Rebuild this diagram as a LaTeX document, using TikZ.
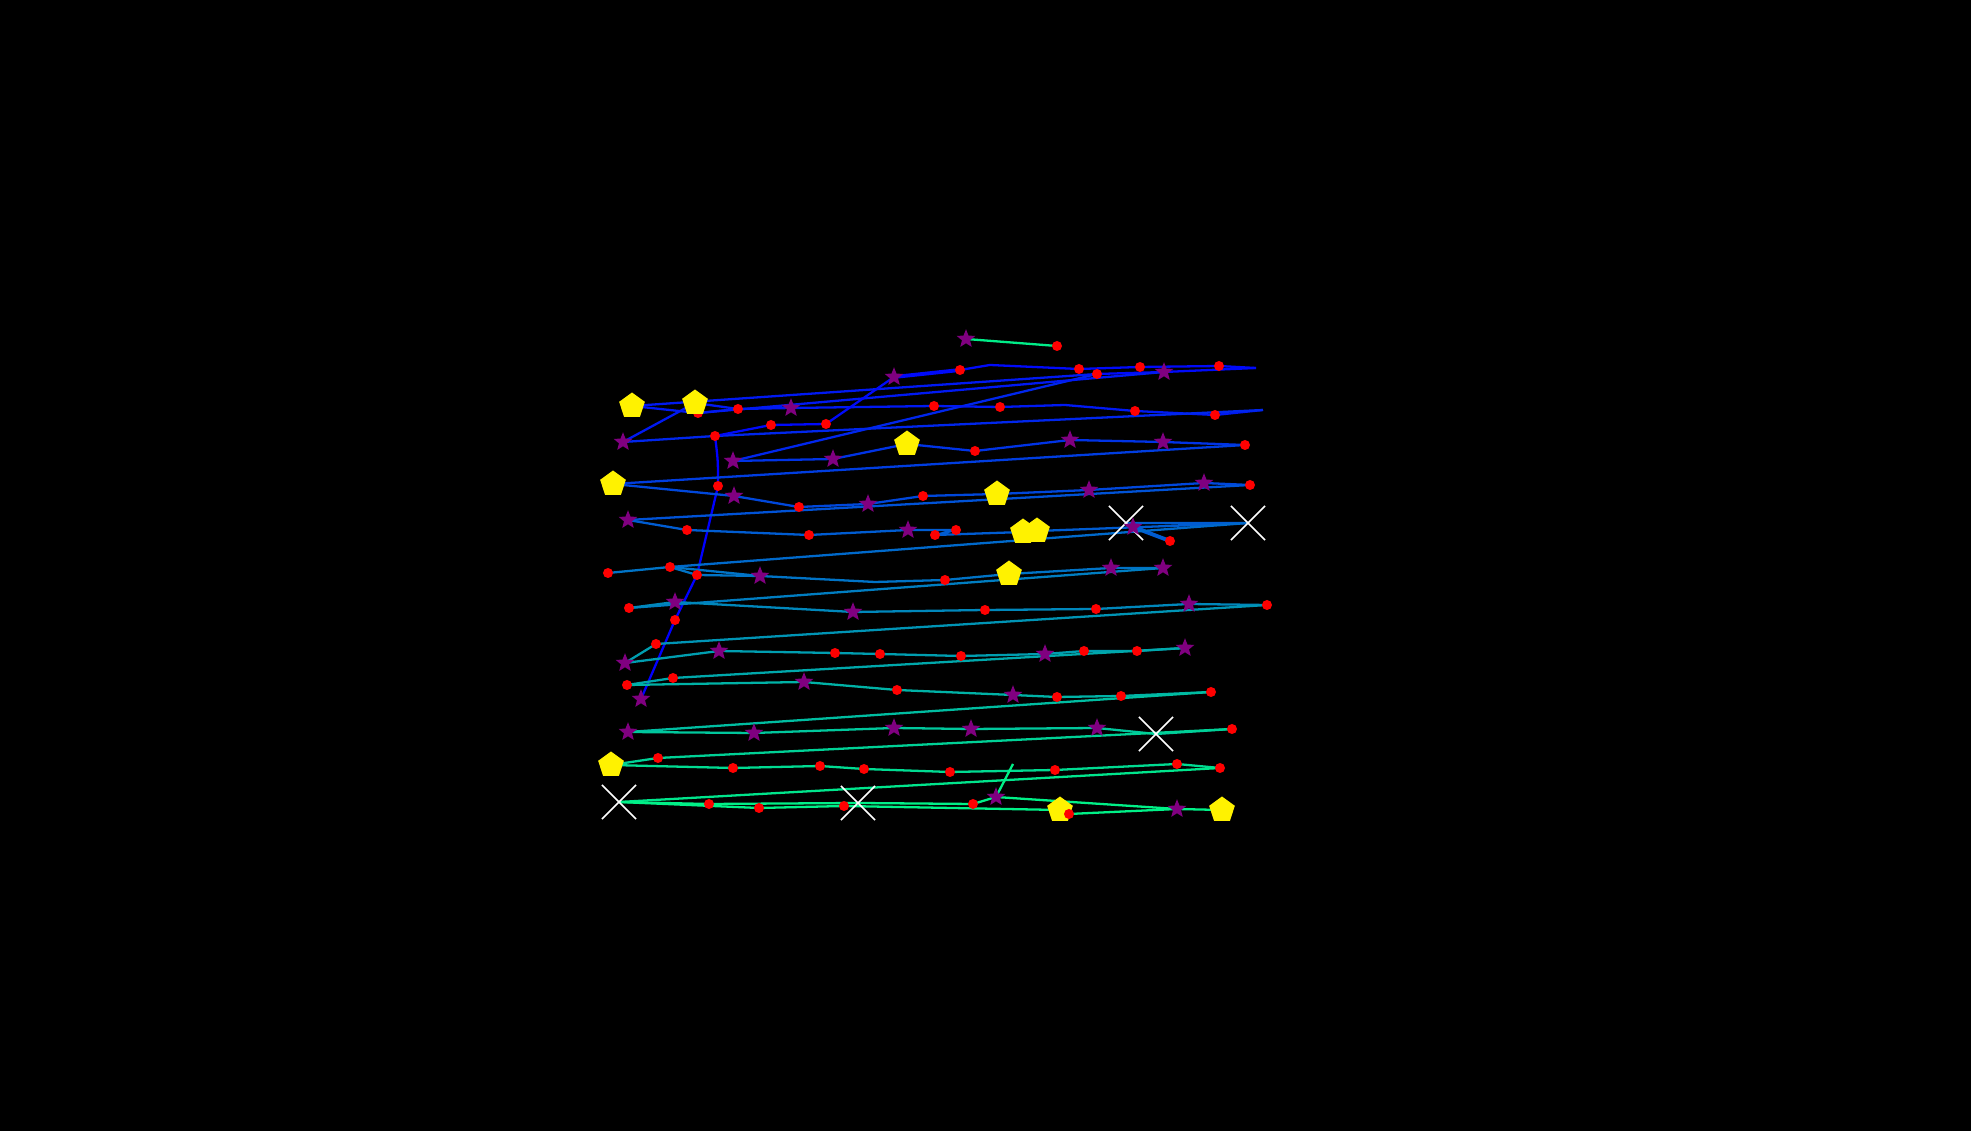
\documentclass[tikz,border=0pt]{standalone}
\usetikzlibrary{shapes.geometric,shapes.misc,backgrounds}
\definecolor{cg}{rgb}{0,0.93,0.535}
\definecolor{cv}{rgb}{0,0,1}
\definecolor{cA}{rgb}{0,0.04,0.98}
\definecolor{cB}{rgb}{0,0.10,0.95}
\definecolor{cB2}{rgb}{0,0.15,0.925}
\definecolor{cC}{rgb}{0,0.20,0.90}
\definecolor{cC2}{rgb}{0,0.24,0.88}
\definecolor{cD}{rgb}{0,0.28,0.86}
\definecolor{cD2}{rgb}{0,0.32,0.84}
\definecolor{cE}{rgb}{0,0.36,0.82}
\definecolor{cE2}{rgb}{0,0.41,0.795}
\definecolor{cF}{rgb}{0,0.45,0.775}
\definecolor{cF2}{rgb}{0,0.49,0.755}
\definecolor{cG}{rgb}{0,0.53,0.735}
\definecolor{cG2}{rgb}{0,0.58,0.71}
\definecolor{cH}{rgb}{0,0.62,0.69}
\definecolor{cH2}{rgb}{0,0.66,0.67}
\definecolor{cI}{rgb}{0,0.70,0.65}
\definecolor{cI2}{rgb}{0,0.74,0.63}
\definecolor{cJ}{rgb}{0,0.78,0.61}
\definecolor{cJ2}{rgb}{0,0.82,0.59}
\definecolor{cK}{rgb}{0,0.86,0.57}
\definecolor{cK2}{rgb}{0,0.90,0.55}
\definecolor{cL}{rgb}{0,0.94,0.53}
\definecolor{mpurple}{rgb}{0.5,0,0.5}
\tikzset{
  ln/.style={line width=0.65pt, line join=round},
  dot/.style={circle, fill=red, inner sep=0pt, outer sep=0pt, minimum size=0.1cm},
  stara/.style={star, star points=5, star point ratio=2.3, fill=mpurple, inner sep=0pt, outer sep=0pt, minimum size=0.195cm},
  pent/.style={regular polygon, regular polygon sides=5, fill=yellow, inner sep=0pt, outer sep=0pt, minimum size=0.27cm},
  xm/.style={cross out, draw=white, line width=0.45pt, inner sep=0pt, outer sep=0pt, minimum width=0.34cm, minimum height=0.34cm}
}
\begin{document}
\begin{tikzpicture}[x=0.01cm,y=-0.01cm]
\useasboundingbox (0,0) rectangle (1971,1131);
% ---------- markers: X ----------
\node[xm] (x1) at (1126,523) {};
\node[xm] (x2) at (1248,523) {};
\node[xm] (x3) at (1156,734) {};
\node[xm] (x4) at (619,802) {};
\node[xm] (x5) at (858,803) {};
% hidden red under pentagon
\node[dot] (r7) at (698,413) {};
% ---------- pentagons ----------
\node[pent] (p1) at (632,406) {};
\node[pent] (p2) at (695,403) {};
\node[pent] (p3) at (907,444) {};
\node[pent] (p4) at (613,484) {};
\node[pent] (p5) at (997,494) {};
\node[pent] (p6) at (1023,532) {};
\node[pent] (p7) at (1037,531) {};
\node[pent] (p8) at (1009,574) {};
\node[pent] (p9) at (611,765) {};
\node[pent] (p10) at (1060,810) {};
\node[pent] (p11) at (1222,810) {};
% ---------- red dots ----------
\node[dot] (r1) at (1057,346) {};
\node[dot] (r2) at (960,370) {};
\node[dot] (r3) at (1079,369) {};
\node[dot] (r4) at (1097,374) {};
\node[dot] (r5) at (1140,367) {};
\node[dot] (r6) at (1219,366) {};
\node[dot] (r8) at (738,409) {};
\node[dot] (r9) at (934,406) {};
\node[dot] (r10) at (1000,407) {};
\node[dot] (r11) at (1135,411) {};
\node[dot] (r12) at (1215,415) {};
\node[dot] (r13) at (715,436) {};
\node[dot] (r14) at (771,425) {};
\node[dot] (r15) at (826,424) {};
\node[dot] (r16) at (975,451) {};
\node[dot] (r17) at (1245,445) {};
\node[dot] (r18) at (718,486) {};
\node[dot] (r19) at (799,507) {};
\node[dot] (r20) at (923,496) {};
\node[dot] (r21) at (1250,485) {};
\node[dot] (r22) at (687,530) {};
\node[dot] (r23) at (809,535) {};
\node[dot] (r24) at (935,535) {};
\node[dot] (r25) at (956,530) {};
\node[dot] (r26) at (1170,541) {};
\node[dot] (r27) at (608,573) {};
\node[dot] (r28) at (670,567) {};
\node[dot] (r29) at (697,575) {};
\node[dot] (r30) at (945,580) {};
\node[dot] (r31) at (629,608) {};
\node[dot] (r32) at (675,620) {};
\node[dot] (r33) at (985,610) {};
\node[dot] (r34) at (1096,609) {};
\node[dot] (r35) at (1267,605) {};
\node[dot] (r36) at (656,644) {};
\node[dot] (r37) at (835,653) {};
\node[dot] (r38) at (880,654) {};
\node[dot] (r39) at (961,656) {};
\node[dot] (r40) at (1084,651) {};
\node[dot] (r41) at (1137,651) {};
\node[dot] (r42) at (673,678) {};
\node[dot] (r43) at (627,685) {};
\node[dot] (r44) at (897,690) {};
\node[dot] (r45) at (1057,697) {};
\node[dot] (r46) at (1121,696) {};
\node[dot] (r47) at (1211,692) {};
\node[dot] (r48) at (658,758) {};
\node[dot] (r49) at (733,768) {};
\node[dot] (r50) at (820,766) {};
\node[dot] (r51) at (864,769) {};
\node[dot] (r52) at (950,772) {};
\node[dot] (r53) at (1055,770) {};
\node[dot] (r54) at (1177,764) {};
\node[dot] (r55) at (1220,768) {};
\node[dot] (r56) at (709,804) {};
\node[dot] (r57) at (759,808) {};
\node[dot] (r58) at (844,806) {};
\node[dot] (r59) at (973,804) {};
\node[dot] (r60) at (1069,814) {};
\node[dot] (r61) at (1232,729) {};
% ---------- stars ----------
\node[stara] (s1) at (966,339) {};
\node[stara] (s2) at (894,377) {};
\node[stara] (s3) at (1164,372) {};
\node[stara] (s4) at (791,408) {};
\node[stara] (s5) at (623,442) {};
\node[stara] (s6) at (733,461) {};
\node[stara] (s7) at (833,459) {};
\node[stara] (s8) at (1070,440) {};
\node[stara] (s9) at (1163,442) {};
\node[stara] (s10) at (734,496) {};
\node[stara] (s11) at (868,504) {};
\node[stara] (s12) at (1089,490) {};
\node[stara] (s13) at (1204,483) {};
\node[stara] (s14) at (628,520) {};
\node[stara] (s15) at (908,530) {};
\node[stara] (s16) at (1133,527) {};
\node[stara] (s17) at (760,576) {};
\node[stara] (s18) at (1111,568) {};
\node[stara] (s19) at (1163,568) {};
\node[stara] (s20) at (675,602) {};
\node[stara] (s21) at (853,612) {};
\node[stara] (s22) at (1189,604) {};
\node[stara] (s23) at (625,663) {};
\node[stara] (s24) at (719,651) {};
\node[stara] (s25) at (1045,654) {};
\node[stara] (s26) at (1185,648) {};
\node[stara] (s27) at (641,699) {};
\node[stara] (s28) at (804,682) {};
\node[stara] (s29) at (1013,695) {};
\node[stara] (s30) at (628,732) {};
\node[stara] (s31) at (754,733) {};
\node[stara] (s32) at (894,728) {};
\node[stara] (s33) at (971,729) {};
\node[stara] (s34) at (1097,728) {};
\node[stara] (s35) at (996,797) {};
\node[stara] (s36) at (1177,809) {};
% free line ends
\coordinate (e1) at (1256,368);
\coordinate (e2) at (1263,410);
\coordinate (q1) at (990,365);
\coordinate (q2) at (1065,405);
\coordinate (q3) at (875,582);
\coordinate (g1) at (1013,764);
% ---------- connectors ----------
\begin{scope}[on background layer]
\fill[black] (0,0) rectangle (1971,1131);
\draw[ln,cg] (s1.center) -- (r1.center);
% row 1
\draw[ln,cA] (s2.center) -- (r2.center) -- (q1) -- (r3.center) -- (r5.center) -- (r6.center) -- (e1);
\draw[line width=1.1pt,cA] (s2.center) -- (r2.center);
\draw[ln,cA] (e1) -- (s3.center) -- (r4.center);
\draw[ln,cB2] (r4.center) -- (s6.center);
\draw[ln,cB] (p1.center) -- (r4.center);
\draw[ln,cB] (r7.center) -- (s3.center);
% row 2
\draw[ln,cB] (p1.center) -- (r7.center) -- (r8.center) -- (s4.center) -- (r9.center) -- (r10.center) -- (q2) -- (r11.center) -- (r12.center) -- (e2);
\draw[ln,cB] (p2.center) -- (r8.center);
\draw[ln,cB] (p2.center) -- (s5.center);
\draw[ln,cB2] (s5.center) -- (r13.center) -- (e2);
\draw[ln,cA] (s2.center) -- (r15.center) -- (r14.center) -- (r13.center);
% vertical
\draw[ln,cv] (r13.center) .. controls (718,460) .. (r18.center) -- (r29.center) -- (r32.center) -- (s27.center);
% row 3
\draw[ln,cC] (s6.center) -- (s7.center) -- (p3.center) -- (r16.center) -- (s8.center) -- (s9.center) -- (r17.center);
\draw[ln,cC2] (r17.center) -- (p4.center);
% row 4
\draw[ln,cD] (p4.center) -- (s10.center) -- (r19.center) -- (s11.center) -- (r20.center) -- (p5.center) -- (s12.center) -- (s13.center) -- (r21.center);
\draw[ln,cD2] (r21.center) -- (s14.center);
% row 5
\draw[ln,cE] (s14.center) -- (r22.center) -- (r23.center) -- (s15.center) -- (r25.center) -- (r24.center) -- (p6.center) -- (p7.center) -- (x2.center) -- (x1.center) -- (r26.center);
\draw[line width=1.1pt,cE] (s16.center) -- (r26.center);
\draw[ln,cE2] (x2.center) -- (r28.center);
% row 6
\draw[ln,cF] (r27.center) -- (r28.center) -- (r29.center) -- (s17.center) -- (q3) -- (r30.center) -- (p8.center) -- (s18.center) -- (s19.center);
\draw[ln,cF] (r28.center) -- (s17.center);
\draw[ln,cF2] (s19.center) -- (r31.center);
% row 7
\draw[ln,cG] (r31.center) -- (s20.center) -- (s21.center) -- (r33.center) -- (r34.center) -- (s22.center) -- (r35.center);
\draw[ln,cG2] (r35.center) -- (r36.center);
% row 8
\draw[ln,cH] (r36.center) -- (s23.center) -- (s24.center) -- (r37.center) -- (r38.center) -- (r39.center) -- (s25.center) -- (r40.center) -- (r41.center) -- (s26.center);
\draw[ln,cH2] (s26.center) -- (r42.center) -- (r43.center);
% row 9
\draw[ln,cI] (r43.center) -- (s28.center) -- (r44.center) -- (s29.center) -- (r45.center) -- (r46.center) -- (r47.center);
\draw[ln,cI2] (r47.center) -- (s30.center);
% row 10
\draw[ln,cJ] (s30.center) -- (s31.center) -- (s32.center) -- (s33.center) -- (s34.center) -- (x3.center) -- (r61.center);
\draw[ln,cJ2] (r61.center) -- (r48.center) -- (p9.center);
% row 11
\draw[ln,cK] (p9.center) -- (r49.center) -- (r50.center) -- (r51.center) -- (r52.center) -- (r53.center) -- (r54.center) -- (r55.center);
\draw[ln,cK2] (r55.center) -- (x4.center);
% row 12
\draw[ln,cL] (x4.center) -- (r56.center) -- (x5.center) -- (r59.center) -- (s35.center) -- (s36.center) -- (p11.center);
\draw[ln,cL] (x4.center) -- (r57.center) -- (r58.center) -- (p10.center) -- (r60.center) -- (s36.center);
\draw[ln,cL] (s35.center) -- (g1);
\end{scope}
\end{tikzpicture}
\end{document}
